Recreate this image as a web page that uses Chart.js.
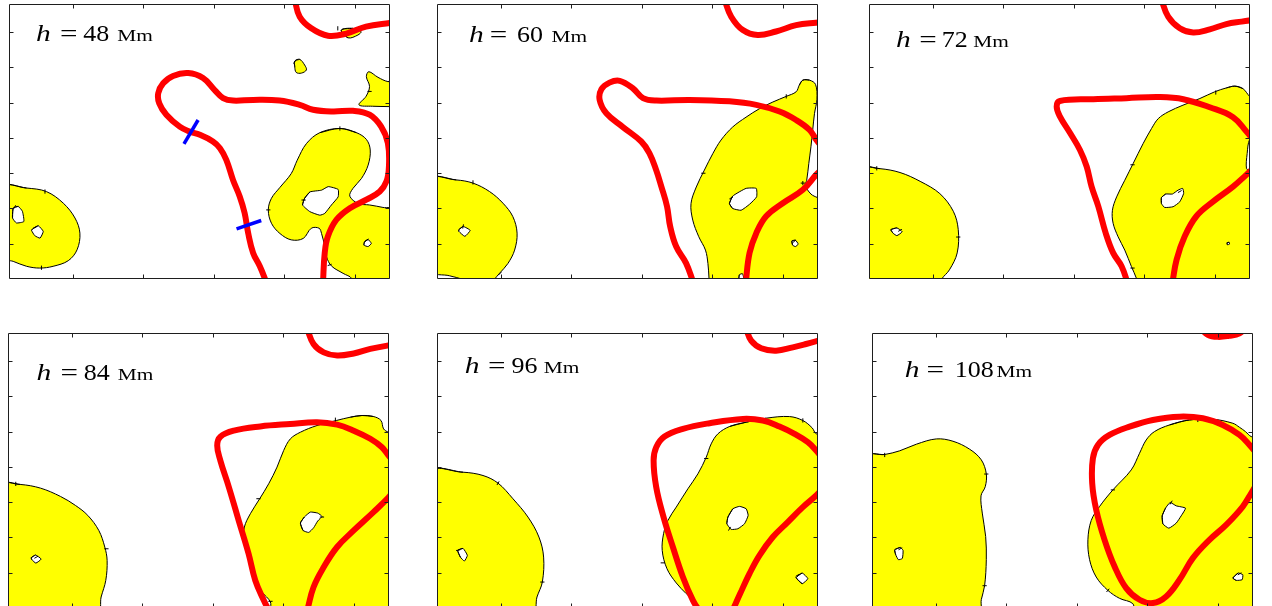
<!DOCTYPE html>
<html>
<head>
<meta charset="utf-8">
<script src="https://cdn.jsdelivr.net/npm/chart.js@4.4.1/dist/chart.umd.min.js"></script>
<style>
  html, body { margin: 0; padding: 0; background: #fff; width: 1272px; height: 606px; overflow: hidden; }
  .panel { position: absolute; }
</style>
</head>
<body>
<div id="wrap"></div>
<script>
// Heights of the horizontal cuts (Mm)
const heights = [48, 60, 72, 84, 96, 108];

// Axis tick values (Mm)
const xTicks = [0, 10, 20, 30, 40];
const yTicks = [5, 10, 15, 20, 25, 30, 35];

// ---- h = 48 Mm ----
const yellow48 = [
  [[-9.8,13.05],[-6.5,12.9],[-3.7,12.4],[-1.3,10.75],[0.35,8.65],[1.05,6.5],[0.65,4.15],[-0.6,2.6],[-2.75,1.8],[-4.65,1.55],[-6.5,1.8],[-8.4,2.5],[-9.8,3.0]],
  [[37.9,21.35],[40.25,20.75],[41.65,19.8],[42.2,18.3],[41.9,16.15],[40.95,14.25],[39.75,12.85],[39.3,11.75],[40.5,10.7],[42.1,10.5],[44.0,10.15],[45.6,9.8],[46.4,-0.8],[39.3,-0.8],[39.55,0.1],[38.35,0.8],[36.7,1.85],[36.0,3.15],[35.75,4.6],[35.3,6.45],[34.95,7.2],[33.85,7.2],[32.7,5.75],[31.0,5.55],[29.4,6.45],[28.2,7.9],[27.75,9.8],[28.2,11.45],[29.4,12.99],[31.0,14.95],[31.85,16.85],[33.15,19.2],[35.05,20.75]],
  [[38.1,35.3],[39.75,35.55],[40.9,35.1],[40.45,34.6],[39.05,34.2]],
  [[31.5,30.9],[32.2,31.15],[32.9,30.35],[33.15,29.65],[32.45,29.2],[31.7,29.3],[31.5,30.1]],
  [[45.8,28.1],[44.7,28.0],[43.3,28.6],[42.0,29.4],[41.65,28.7],[42.1,27.3],[41.6,25.9],[40.6,24.7],[42.5,24.5],[44.95,24.45],[45.8,24.4]]
];
const holes48 = [
  [[-8.4,10.05],[-7.7,10.3],[-7.1,9.6],[-6.9,8.15],[-7.95,7.95],[-8.5,8.65]],
  [[-5.55,7.2],[-4.85,7.55],[-4.15,6.75],[-4.6,5.8],[-5.35,6.15],[-5.8,6.9]],
  [[32.9,11.45],[33.65,12.35],[35.3,12.6],[36.25,13.1],[37.65,12.7],[37.65,11.65],[36.7,10.5],[35.75,9.3],[35.05,9.05],[33.65,9.55],[32.6,10.5]],
  [[41.4,5.3],[41.9,5.6],[42.35,5.05],[41.9,4.6],[41.3,4.8]]
];
const red48 = [
  [[31.5,39.6],[32.2,37.2],[33.85,35.55],[36.2,34.5],[38.8,34.8],[41.6,35.8],[44.95,36.3],[46.0,36.4]],
  [[27.5,-0.5],[26.55,1.8],[25.6,3.7],[24.9,6.5],[24.4,9.35],[23.7,11.7],[22.75,14.05],[21.8,16.9],[20.9,18.55],[19.9,19.5],[18.05,20.45],[16.6,20.9],[15.2,21.6],[13.3,23.3],[12.3,24.9],[12.15,26.35],[12.85,27.75],[14.25,28.8],[16.4,29.2],[18.5,28.5],[20.15,26.8],[21.35,25.65],[22.75,25.3],[25.6,25.4],[29.35,25.3],[32.2,24.7],[34.1,24.0],[36.9,23.75],[39.75,23.85],[42.1,23.3],[43.75,21.6],[44.7,19.25],[44.85,15.95],[44.5,13.85],[43.55,12.4],[41.65,11.25],[39.3,10.05],[37.4,8.4],[36.2,6.05],[35.75,3.7],[35.5,-0.55]]
];
const blue48 = [
  [[15.8,19.15],[17.8,22.55]],
  [[23.25,7.1],[26.75,8.3]]
];
// contour tick marks: x, y, direction (degrees)
const ticks48 = [[-3.9,12.4,90],[-4.4,1.6,90],[37.9,21.35,90],[27.75,9.8,0],[32.75,11.2,0],[36.45,2.0,20],[37.6,35.55,90],[31.5,30.8,60],[42.1,26.6,0],[-8.2,10.2,60],[-5.3,7.3,30],[41.7,5.5,40]];

// ---- h = 60 Mm ----
const yellow60 = [
  [[-9.8,14.15],[-6.25,14.05],[-3.9,13.6],[-1.55,12.4],[0.35,10.75],[1.75,8.85],[2.35,6.5],[2.0,4.1],[1.05,2.2],[-0.1,0.85],[-0.9,-0.1],[-1.3,-0.8],[-5.0,-0.8],[-5.4,-0.1],[-7.2,0.45],[-9.8,1.2]],
  [[42.85,28.2],[43.8,28.2],[44.65,27.6],[44.85,25.5],[44.5,23.45],[44.25,21.1],[44.0,18.75],[43.7,16.4],[43.4,14.0],[43.2,13.3],[44.0,12.05],[45.6,10.9],[45.6,-1.0],[29.6,-1.0],[29.55,0.1],[29.4,2.2],[29.05,4.1],[28.1,6.0],[27.25,8.35],[27.0,10.7],[27.75,13.05],[28.9,15.45],[30.1,17.8],[31.25,19.7],[32.9,21.55],[34.8,22.95],[36.7,24.15],[38.6,25.1],[40.5,25.9],[41.9,26.55],[42.35,27.5]]
];
const holes60 = [
  [[-5.9,7.0],[-5.3,7.45],[-4.3,6.9],[-5.05,6.05],[-5.9,6.75]],
  [[32.45,10.7],[32.9,11.75],[34.8,12.85],[36.25,12.85],[36.3,11.65],[35.3,10.6],[34.1,9.75],[32.9,10.0]],
  [[41.3,5.4],[41.8,5.5],[42.2,4.95],[41.8,4.6],[41.4,4.8]],
  [[33.75,-0.6],[33.85,0.6],[34.3,0.75],[34.6,-0.6]]
];
const red60 = [
  [[31.75,39.6],[32.7,37.2],[34.35,35.3],[36.45,34.6],[39.05,35.1],[41.9,36.0],[44.7,36.35],[46.15,36.45]],
  [[27.35,-0.55],[26.3,2.25],[24.9,4.6],[24.05,7.45],[23.6,10.3],[22.8,13.1],[22.05,15.5],[21.1,17.85],[19.95,19.5],[17.35,21.55],[15.0,23.5],[14.05,25.4],[14.3,26.9],[15.45,27.85],[16.9,28.1],[18.75,27.05],[20.2,25.65],[22.1,25.3],[26.8,25.4],[32.45,25.2],[36.25,24.7],[39.55,23.75],[41.9,22.55],[43.8,21.15],[44.75,19.75],[45.7,18.55]],
  [[45.7,15.7],[44.75,14.8],[42.85,12.65],[40.0,10.75],[37.65,8.9],[36.25,6.5],[35.3,3.7],[34.75,-0.55]]
];
const ticks60 = [[-3.9,13.7,90],[-0.1,0.75,45],[-5.3,7.45,80],[40.5,25.9,90],[28.75,15.0,0],[42.85,13.6,0],[42.85,13.6,90],[32.7,11.5,30],[41.65,5.35,40]];

// ---- h = 72 Mm ----
const yellow72 = [
  [[-9.8,15.6],[-7.45,15.65],[-4.6,15.1],[-1.75,13.85],[1.05,12.1],[2.95,9.6],[3.65,7.0],[3.5,3.7],[2.4,1.3],[1.3,0.0],[1.0,-0.8],[-9.8,-0.8]],
  [[42.85,27.35],[44.0,27.0],[44.95,25.9],[45.6,25.5],[45.6,19.9],[44.95,19.8],[44.6,17.8],[44.5,15.65],[44.95,15.5],[45.6,15.4],[45.6,-1.0],[29.2,-1.0],[28.9,0.1],[28.2,1.75],[27.25,4.1],[26.3,6.0],[25.6,7.9],[25.5,9.75],[26.1,11.65],[27.25,14.0],[28.45,16.4],[29.85,19.2],[31.05,21.35],[32.0,22.75],[33.4,23.7],[35.5,24.65],[37.9,25.6],[40.0,26.55],[41.65,27.1]]
];
const holes72 = [
  [[-5.9,7.0],[-5.05,7.25],[-4.3,6.7],[-5.05,6.15],[-5.6,6.5]],
  [[32.45,11.55],[33.05,12.05],[34.0,12.05],[34.8,12.6],[35.45,12.85],[35.6,12.15],[35.05,10.95],[34.1,10.25],[32.9,10.15],[32.45,10.7]],
  [[41.75,5.15],[42.05,5.2],[42.1,4.95],[41.8,4.85]]
];
const red72 = [
  [[32.45,39.6],[33.4,37.2],[35.05,35.55],[36.95,34.95],[39.3,35.4],[41.65,36.15],[43.8,36.5],[45.9,36.8]],
  [[27.65,-0.55],[26.8,1.8],[25.6,3.7],[24.55,6.5],[23.5,10.3],[22.55,13.1],[21.85,15.95],[20.9,18.3],[19.5,20.7],[18.05,23.05],[17.6,24.45],[18.05,25.25],[22.8,25.5],[27.5,25.65],[32.2,25.8],[35.55,25.5],[39.3,24.35],[42.6,22.95],[44.5,20.9],[45.45,19.75]],
  [[45.45,15.7],[44.5,14.8],[42.6,13.1],[39.8,11.0],[37.4,8.9],[35.75,6.05],[34.6,2.75],[34.0,-0.55]]
];
const ticks72 = [[-7.9,15.7,90],[3.65,5.95,0],[40.15,26.45,90],[28.35,16.2,0],[28.35,1.55,0],[35.05,12.4,30],[-4.6,6.9,30]];

// ---- h = 84 Mm ----
const yellow84 = [
  [[-9.8,17.47],[-7.22,17.52],[-4.39,17.0],[-1.56,15.82],[0.57,14.54],[2.31,13.13],[3.87,11.0],[4.72,8.64],[5.05,6.75],[4.86,3.92],[4.2,1.56],[3.64,-0.8],[-9.8,-0.8]],
  [[41.17,27.3],[42.82,27.15],[43.86,26.6],[44.24,25.4],[44.95,24.93],[45.7,24.9],[45.7,-1.0],[28.42,-1.0],[28.19,0.85],[27.0,2.27],[26.06,3.92],[25.12,6.76],[24.41,9.59],[24.5,11.48],[25.35,13.37],[26.67,15.49],[27.95,17.62],[29.13,19.98],[30.07,22.34],[31.02,23.99],[32.44,24.93],[34.8,25.88],[37.53,26.59],[39.52,27.06]]
];
const holes84 = [
  [[-5.71,7.13],[-5.1,7.51],[-4.3,6.94],[-5.05,6.37],[-5.62,6.85]],
  [[32.44,12.05],[33.0,12.9],[33.85,13.6],[34.89,13.46],[35.5,12.99],[34.89,12.33],[34.32,11.38],[33.62,10.72],[32.81,11.0]]
];
const red84 = [
  [[33.4,39.6],[34.3,37.45],[35.75,36.25],[37.65,35.8],[40.0,36.1],[42.35,36.75],[46.15,37.45]],
  [[28.2,-0.8],[27.25,1.1],[26.05,3.9],[25.1,7.7],[23.7,12.4],[22.3,17.15],[21.1,20.9],[20.65,23.05],[21.1,24.3],[23.0,25.15],[26.75,25.75],[31.0,26.1],[34.8,26.35],[37.65,26.0],[40.0,25.15],[42.35,24.0],[44.0,22.8],[44.95,21.6],[45.9,20.45]],
  [[45.9,16.9],[44.95,15.7],[42.8,13.6],[40.0,11.0],[37.65,8.65],[35.75,5.8],[34.3,2.95],[33.4,-0.35],[33.2,-0.8]]
];
const ticks84 = [[-7.9,17.6,90],[4.95,8.4,0],[37.4,26.7,90],[26.5,15.5,0],[28.2,0.95,0],[35.5,12.9,0],[-5.0,7.2,30]];

// ---- h = 96 Mm ----
const yellow96 = [
  [[-9.8,19.26],[-5.31,19.26],[-2.48,18.79],[-0.35,17.71],[1.77,15.49],[3.9,12.89],[5.45,10.06],[6.11,7.22],[5.93,3.68],[5.17,1.56],[4.51,-0.8],[-9.8,-0.8]],
  [[34.82,26.35],[37.65,26.92],[40.96,27.15],[42.85,26.59],[44.17,25.55],[44.74,24.7],[45.7,24.6],[45.7,-1.0],[28.68,-1.0],[27.74,0.71],[26.32,2.04],[24.91,3.55],[23.59,5.58],[22.92,8.17],[23.11,10.53],[23.73,12.42],[24.91,14.31],[26.56,16.91],[27.98,19.03],[29.16,21.39],[29.86,23.28],[30.81,24.7],[32.46,25.74]]
];
const holes96 = [
  [[-6.07,8.17],[-5.31,8.45],[-4.7,7.46],[-5.12,6.66],[-5.69,7.22]],
  [[32.23,12.89],[32.93,14.07],[33.88,14.41],[34.82,14.07],[35.1,13.13],[34.59,11.95],[33.64,11.24],[32.7,11.15],[32.08,11.95]],
  [[41.9,4.31],[42.75,4.96],[43.56,4.16],[42.75,3.45]]
];
const red96 = [
  [[34.82,39.6],[35.53,37.91],[36.95,36.83],[39.07,36.5],[41.43,36.97],[43.31,37.44],[45.91,38.15]],
  [[28.45,-0.8],[27.27,1.09],[25.85,4.4],[24.43,8.65],[23.11,12.89],[22.07,17.14],[21.7,20.92],[22.07,22.81],[23.25,24.32],[25.85,25.41],[29.63,26.21],[34.35,26.82],[37.18,26.59],[39.54,25.74],[41.67,24.7],[43.56,23.52],[44.74,22.34],[45.68,21.16]],
  [[45.68,16.91],[44.5,15.73],[42.85,14.31],[40.72,12.19],[38.6,10.06],[36.71,7.46],[35.29,4.87],[33.97,2.04],[32.7,-0.8]]
];
const ticks96 = [[-0.35,17.7,60],[5.93,3.68,0],[-6.0,8.2,10],[42.85,26.6,90],[29.16,21.2,0],[23.0,6.4,0],[32.46,11.24,60],[42.1,4.64,30]];

// ---- h = 108 Mm ----
const yellow108 = [
  [[-9.8,21.48],[-7.2,21.77],[-5.08,22.29],[-2.71,23.23],[0.12,23.98],[2.48,23.65],[4.84,22.52],[6.49,21.01],[7.2,19.03],[7.06,17.23],[6.45,15.91],[6.63,13.46],[7.11,10.15],[7.2,6.85],[6.96,3.16],[6.49,1.18],[6.16,-0.8],[-9.8,-0.8]],
  [[36.0,26.67],[39.31,26.77],[42.14,26.2],[43.08,25.63],[43.93,25.02],[44.74,24.31],[45.7,24.2],[45.7,-1.0],[28.45,-1.0],[27.97,0.61],[26.08,1.37],[24.43,2.5],[22.78,4.39],[21.84,6.85],[21.6,9.67],[22.07,12.41],[23.25,14.39],[25.14,16.75],[27.74,19.58],[28.92,21.95],[29.86,23.83],[31.04,25.02],[33.17,25.96]]
];
const holes108 = [
  [[-5.78,8.26],[-4.98,8.59],[-4.6,8.17],[-4.7,7.03],[-5.26,6.85],[-5.64,7.55]],
  [[32.13,13.07],[32.6,14.16],[33.26,14.96],[34.11,14.49],[35.43,14.16],[34.82,13.07],[34.11,12.03],[33.07,11.32],[32.22,11.94]],
  [[42.14,4.25],[42.89,4.96],[43.55,4.72],[43.46,4.01],[42.61,3.92]]
];
const red108 = [
  [[37.4,39.8],[38.6,38.75],[40.0,38.45],[41.6,38.6],[43.1,38.95],[44.0,39.8]],
  [[45.68,21.71],[44.5,23.13],[43.08,24.54],[40.72,25.96],[37.89,26.9],[34.58,27.14],[30.81,26.67],[27.5,25.72],[24.67,24.54],[23.02,23.13],[22.31,21.24],[22.21,17.7],[22.78,13.92],[23.96,9.67],[25.38,5.89],[27.03,2.82],[28.92,1.17],[30.81,0.7],[32.7,1.64],[34.58,4.0],[36.47,7.07],[38.83,9.67],[41.19,11.79],[43.55,14.39],[44.74,16.28],[45.44,17.46]]
];
const ticks108 = [[-7.2,21.7,90],[7.2,19.0,0],[6.96,3.16,0],[-4.98,8.4,30],[37.18,26.67,90],[25.14,16.75,0],[24.43,2.5,50],[33.4,14.96,60],[43.1,4.85,30]];

const yellowSets = [yellow48, yellow60, yellow72, yellow84, yellow96, yellow108];
const holeSets = [holes48, holes60, holes72, holes84, holes96, holes108];
const redSets = [red48, red60, red72, red84, red96, red108];
const blueSets = [blue48, [], [], [], [], []];
const tickSets = [ticks48, ticks60, ticks72, ticks84, ticks96, ticks108];

// ---- page layout ----
const PAD = 4;
const PANEL_W = 381, PANEL_H = 275;
const panelBoxes = [[9, 4], [437, 4], [869, 4], [8, 333], [437, 333], [872, 333]];
// label pieces relative to the plot area: h, '=', value, unit, baseline
const labelLayout = [
  [27, 51, 74.3, 108.3, 36.7],
  [32, 52.7, 80, 114.4, 37.7],
  [27, 50.3, 72.7, 104.3, 43.3],
  [28.5, 52.5, 75.8, 109.8, 46.6],
  [27.7, 51, 74.4, 106.7, 40],
  [32.7, 54.4, 82.7, 124.4, 44]
];
const TICK = 4;
const TICK_HALF = 0.3; // Mm, half length of contour tick marks

function closedPts(poly) {
  // wrap around so the spline is smooth across the start point
  const n = poly.length;
  const seq = [poly[n - 1], ...poly, poly[0], poly[1]];
  return seq.map(p => ({ x: p[0], y: p[1] }));
}
function openPts(line) { return line.map(p => ({ x: p[0], y: p[1] })); }
function tickPts(list) {
  const out = [];
  list.forEach(([cx, cy, deg]) => {
    const r = deg * Math.PI / 180;
    const dx = Math.cos(r) * TICK_HALF, dy = Math.sin(r) * TICK_HALF;
    out.push({ x: cx - dx, y: cy - dy }, { x: cx + dx, y: cy + dy }, { x: cx + dx, y: null });
  });
  return out;
}

const framePlugin = {
  id: 'frame',
  afterDatasetsDraw(chart, args, opts) {
    const { ctx, chartArea: a, scales: { x, y } } = chart;
    ctx.save();
    ctx.strokeStyle = '#1e1e1e';
    ctx.lineWidth = 1;
    const l = Math.round(a.left) + 0.5, r = Math.round(a.right) - 0.5;
    const t = Math.round(a.top) + 0.5, b = Math.round(a.bottom) - 0.5;
    ctx.beginPath();
    ctx.rect(l, t, r - l, b - t);
    xTicks.forEach(v => {
      const px = Math.round(x.getPixelForValue(v)) + 0.5;
      ctx.moveTo(px, t); ctx.lineTo(px, t + TICK);
      ctx.moveTo(px, b); ctx.lineTo(px, b - TICK);
    });
    yTicks.forEach(v => {
      const py = Math.round(y.getPixelForValue(v)) + 0.5;
      ctx.moveTo(l, py); ctx.lineTo(l + TICK, py);
      ctx.moveTo(r, py); ctx.lineTo(r - TICK, py);
    });
    ctx.stroke();

    // height label
    const L = opts.layout;
    const piece = (txt, font, px, sx) => {
      ctx.save();
      ctx.translate(a.left + px, a.top + L[4]);
      ctx.scale(sx, 1);
      ctx.font = font;
      ctx.fillStyle = '#000';
      ctx.textBaseline = 'alphabetic';
      ctx.fillText(txt, 0, 0);
      ctx.restore();
    };
    piece('h', 'italic 23px "Liberation Serif"', L[0], 1.28);
    piece('=', '23px "Liberation Serif"', L[1], 1.35);
    piece(String(opts.height), '23px "Liberation Serif"', L[2], 1.13);
    piece('Mm', '17.5px "Liberation Serif"', L[3], 1.22);
    ctx.restore();
  }
};

const wrap = document.getElementById('wrap');
heights.forEach((h, i) => {
  const div = document.createElement('div');
  div.className = 'panel';
  div.style.left = (panelBoxes[i][0] - PAD) + 'px';
  div.style.top = (panelBoxes[i][1] - PAD) + 'px';
  const cv = document.createElement('canvas');
  const cw = PANEL_W + 2 * PAD, ch = PANEL_H + 2 * PAD;
  cv.width = cw; cv.height = ch;
  cv.style.width = cw + 'px'; cv.style.height = ch + 'px';
  div.appendChild(cv);
  wrap.appendChild(div);

  const datasets = [];
  yellowSets[i].forEach(poly => datasets.push({
    data: closedPts(poly), borderColor: '#000', borderWidth: 1,
    backgroundColor: '#ffff00', fill: 'shape', tension: 0.35, order: 5, clip: 0
  }));
  holeSets[i].forEach(poly => datasets.push({
    data: closedPts(poly), borderColor: '#000', borderWidth: 1,
    backgroundColor: '#ffffff', fill: 'shape', tension: 0.15, order: 4, clip: 0
  }));
  datasets.push({
    data: tickPts(tickSets[i]), borderColor: '#000', borderWidth: 1,
    fill: false, tension: 0, spanGaps: false, order: 3, clip: 0
  });
  redSets[i].forEach(line => datasets.push({
    data: openPts(line), borderColor: '#ff0000', borderWidth: 6,
    fill: false, tension: 0.4, order: 2, clip: 0
  }));
  blueSets[i].forEach(line => datasets.push({
    data: openPts(line), borderColor: '#0000ff', borderWidth: 3.5,
    fill: false, tension: 0, order: 1, clip: 0
  }));

  new Chart(cv, {
    type: 'line',
    data: { datasets },
    options: {
      responsive: false,
      animation: false,
      events: [],
      layout: { padding: PAD },
      elements: {
        point: { radius: 0, hoverRadius: 0 },
        line: { capBezierPoints: false, borderJoinStyle: 'round' }
      },
      plugins: {
        legend: { display: false },
        tooltip: { enabled: false },
        frame: { height: h, layout: labelLayout[i] }
      },
      scales: {
        x: { type: 'linear', min: -9, max: 45, display: false },
        y: { type: 'linear', min: 0, max: 39, display: false }
      }
    },
    plugins: [framePlugin]
  });
});
</script>
</body>
</html>
